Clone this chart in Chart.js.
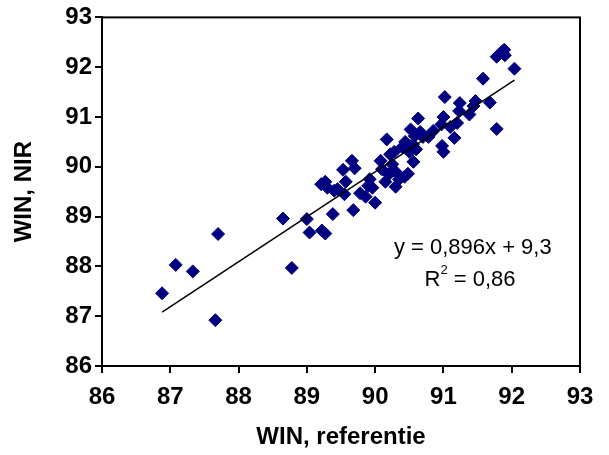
<!DOCTYPE html>
<html>
<head>
<meta charset="utf-8">
<script src="https://cdn.jsdelivr.net/npm/chart.js@4/dist/chart.umd.min.js"></script>
<style>
  html, body { margin: 0; padding: 0; background: #fff; }
  #wrap { width: 609px; height: 455px; }
</style>
</head>
<body>
<div id="wrap"><canvas id="chart1" width="609" height="455"></canvas></div>
<script>
// WIN referentie (x) vs WIN NIR (y)
const winRef = [86.88, 87.08, 87.33, 87.70, 87.66, 88.65, 88.78, 89.00, 89.04, 89.22,
  89.27, 89.38, 89.21, 89.27, 89.30, 89.40, 89.53, 89.57, 89.55, 89.66,
  89.70, 89.68, 89.78, 89.86, 89.92, 89.96, 90.00, 90.08, 90.17, 90.15,
  90.22, 90.28, 90.25, 90.30, 90.30, 90.35, 90.43, 90.48, 90.44, 90.52,
  90.56, 90.60, 90.63, 90.66, 90.58, 90.78, 90.85, 90.97, 91.00, 91.02,
  90.98, 91.00, 91.16, 91.20, 91.23, 91.24, 91.38, 91.47, 91.44, 91.58,
  91.68, 91.78, 91.78, 91.85, 91.89, 91.90, 92.04, 90.10, 89.90, 90.40,
  90.50, 90.70, 89.45, 90.55, 91.10, 90.20];
const winNir = [87.46, 88.03, 87.90, 88.65, 86.92, 88.96, 87.97, 88.95, 88.68, 88.72,
  88.66, 89.05, 89.65, 89.70, 89.58, 89.52, 89.94, 89.70, 89.45, 90.12,
  89.97, 89.13, 89.47, 89.40, 89.75, 89.58, 89.28, 90.12, 90.55, 89.70,
  90.25, 90.30, 90.05, 89.90, 89.60, 89.75, 89.80, 89.86, 90.50, 90.75,
  90.10, 90.35, 90.97, 90.70, 90.62, 90.60, 90.72, 90.85, 91.00, 91.40,
  90.42, 90.30, 90.58, 90.88, 91.12, 91.28, 91.05, 91.32, 91.22, 91.77,
  91.29, 90.76, 92.21, 92.30, 92.35, 92.24, 91.97, 89.95, 89.62, 90.40,
  90.30, 90.60, 89.55, 90.45, 90.80, 89.85];

// trendline end points
const trendX = [86.88, 92.04];
const trendY = [87.08, 91.74];

const axisMin = 86, axisMax = 93;
const eqLine1 = 'y = 0,896x + 9,3';
const eqR = 'R';
const eqR2 = ' = 0,86';

const fontFam = 'Arial, "Liberation Sans", sans-serif';

const framePlugin = {
  id: 'frame',
  afterDraw(chart) {
    const ctx = chart.ctx, a = chart.chartArea;
    ctx.save();
    ctx.strokeStyle = '#000';
    ctx.lineWidth = 2;
    ctx.strokeRect(a.left, a.top, a.right - a.left, a.bottom - a.top);
    // equation text
    const xs = chart.scales.x, ys = chart.scales.y;
    ctx.fillStyle = '#000';
    ctx.font = '22px ' + fontFam;
    ctx.textAlign = 'center';
    ctx.textBaseline = 'middle';
    ctx.fillText(eqLine1, xs.getPixelForValue(91.43), ys.getPixelForValue(88.38));
    // R^2 line
    const cx = xs.getPixelForValue(91.39), cy = ys.getPixelForValue(87.72);
    const wR = ctx.measureText(eqR).width;
    const wRest = ctx.measureText(eqR2).width;
    ctx.font = '13px ' + fontFam;
    const wSup = ctx.measureText('2').width;
    const total = wR + wSup + wRest;
    let x0 = cx - total / 2;
    ctx.textAlign = 'left';
    ctx.font = '22px ' + fontFam;
    ctx.fillText(eqR, x0, cy);
    ctx.font = '13px ' + fontFam;
    ctx.fillText('2', x0 + wR, cy - 10);
    ctx.font = '22px ' + fontFam;
    ctx.fillText(eqR2, x0 + wR + wSup, cy);
    ctx.restore();
  }
};

const pts = winRef.map((v, i) => ({ x: v, y: winNir[i] }));
const trend = trendX.map((v, i) => ({ x: v, y: trendY[i] }));

const ctx = document.getElementById('chart1').getContext('2d');
const chart = new Chart(ctx, {
  type: 'scatter',
  data: {
    datasets: [{
      label: 'WIN',
      data: pts,
      pointStyle: 'rectRot',
      pointRadius: 6.5,
      pointBorderWidth: 1,
      backgroundColor: '#000080',
      borderColor: '#000080',
      order: 2
    }, {
      type: 'line',
      label: 'trend',
      data: trend,
      borderColor: '#000',
      borderWidth: 1.5,
      pointRadius: 0,
      fill: false,
      order: 1
    }]
  },
  options: {
    responsive: false,
    animation: false,
    layout: { padding: { top: 16, right: 29, left: 0, bottom: 0 } },
    plugins: { legend: { display: false }, tooltip: { enabled: false } },
    scales: {
      x: {
        type: 'linear',
        min: axisMin, max: axisMax,
        afterFit(s) { s.height = 89; },
        ticks: { stepSize: 1, color: '#000', padding: 10, font: { family: fontFam, size: 24, weight: 'bold' } },
        grid: { drawOnChartArea: false, drawTicks: true, tickLength: 7, color: '#000', lineWidth: 2 },
        border: { color: '#000', width: 2 },
        title: { display: true, text: 'WIN, referentie', color: '#000', padding: { top: 6, bottom: 3 },
          font: { family: fontFam, size: 24, weight: 'bold' } }
      },
      y: {
        type: 'linear',
        min: axisMin, max: axisMax,
        afterFit(s) { s.width = 102; },
        ticks: { stepSize: 1, color: '#000', padding: 3, font: { family: fontFam, size: 24, weight: 'bold' } },
        grid: { drawOnChartArea: false, drawTicks: true, tickLength: 7, color: '#000', lineWidth: 2 },
        border: { color: '#000', width: 2 },
        title: { display: true, text: 'WIN, NIR', color: '#000', padding: { top: 10, bottom: 0 },
          font: { family: fontFam, size: 24, weight: 'bold' } }
      }
    }
  },
  plugins: [framePlugin]
});
</script>
</body>
</html>
